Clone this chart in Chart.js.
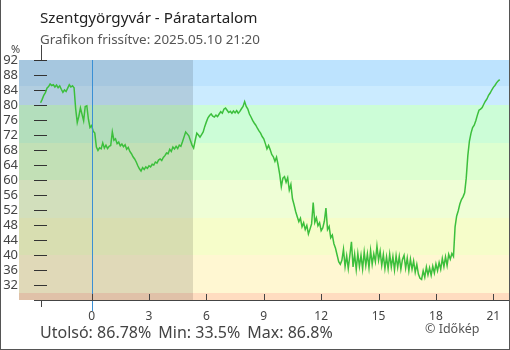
<!DOCTYPE html>
<html lang="hu">
<head>
<meta charset="utf-8">
<title>Szentgyörgyvár - Páratartalom</title>
<script src="https://cdn.jsdelivr.net/npm/chart.js@4.4.1/dist/chart.umd.min.js"></script>
<style>
  html, body { margin: 0; padding: 0; background: #fff; }
  #wrap { position: relative; width: 510px; height: 350px; font-family: "Noto Sans", sans-serif; overflow: hidden; }
  #wrap canvas { position: absolute; left: 0; top: 0; }
  .txt { position: absolute; white-space: nowrap; line-height: 1; }
  #title { left: 40px; top: 10px; font-size: 15.2px; color: #222; }
  #subtitle { left: 40px; top: 33px; font-size: 13.4px; color: #555; }
  #unit { left: 11px; top: 43px; font-size: 11px; color: #444; }
  #stats { left: 40px; top: 324px; font-size: 16px; color: #444; }
  #stats span { margin-right: 7px; }
  #copy { left: 425px; top: 323px; font-size: 12.5px; color: #555; }
  #frame { position: absolute; left: 0; top: 0; width: 510px; height: 350px; box-sizing: border-box;
           border-left: 1px solid #555; border-right: 1px solid #555; border-bottom: 1px solid #555; pointer-events: none; }
</style>
</head>
<body>
<div id="wrap">
  <canvas id="humChart" width="510" height="350"></canvas>
  <div class="txt" id="title">Szentgyörgyvár - Páratartalom</div>
  <div class="txt" id="subtitle">Grafikon frissítve: 2025.05.10 21:20</div>
  <div class="txt" id="unit">%</div>
  <div class="txt" id="stats"><span>Utolsó: 86.78%</span><span>Min: 33.5%</span><span>Max: 86.8%</span></div>
  <div class="txt" id="copy">© Időkép</div>
  <div id="frame"></div>
</div>
<script>
// hours relative to midnight, first reading at 21:20 the day before, one reading every 5 minutes
const startHour = -8 / 3;
const stepMinutes = 5;
const humidity = [
    80.6, 81.5, 82.6, 83.3, 84.5, 84.9, 85.6, 85.2, 85.4,
    84.8, 85.3, 84.6, 85.1, 84.2, 83.4, 84.0, 83.6, 84.5, 85.4, 84.8, 85.1,
    84.6, 79.0, 75.3, 77.0, 79.2, 77.5, 75.8, 79.6, 79.8, 76.2, 74.0, 74.5,
    73.0, 72.5, 68.8, 67.9, 68.6, 68.3, 69.9, 68.5, 69.3, 68.4, 69.0, 69.2,
    72.8, 70.6, 71.0, 69.7, 70.1, 69.1, 69.6, 68.9, 69.4, 68.2, 68.7, 67.6,
    67.0, 66.2, 65.6, 64.8, 63.8, 63.0, 62.4, 63.3, 62.8, 63.5, 63.1, 63.8,
    63.5, 64.2, 64.0, 64.8, 64.5, 65.3, 65.6, 65.2, 66.0, 66.5, 67.2, 67.0,
    68.2, 67.6, 68.8, 68.3, 69.0, 68.4, 69.3, 69.0, 70.2, 71.5, 72.8, 72.3,
    71.8, 70.5, 69.3, 68.5, 70.6, 72.5, 72.0, 71.4, 72.1, 72.8, 74.3, 75.5,
    76.6, 77.2, 77.6, 77.0, 76.8, 77.3, 76.9, 77.6, 78.2, 77.8, 78.9, 79.2,
    78.6, 78.0, 78.3, 77.8, 78.4, 77.9, 78.5, 77.8, 78.3, 79.0, 79.6, 80.9,
    79.6, 78.9, 77.6, 76.8, 75.9, 75.2, 74.6, 73.8, 73.1, 72.5, 71.6, 71.0,
    69.7, 68.3, 69.2, 68.1, 66.8, 66.2, 65.0, 66.1, 64.0, 61.5, 58.2, 60.5,
    60.9, 59.4, 60.6, 57.3, 58.8, 55.0, 53.4, 51.6, 50.2, 48.9, 49.8, 47.5,
    48.6, 46.8, 47.9, 45.6, 46.9, 48.3, 54.0, 48.7, 49.9, 47.8, 48.6, 46.5,
    47.2, 49.0, 52.5, 46.8, 47.6, 44.6, 45.3, 43.0, 41.8, 40.0, 38.2, 37.5,
    38.6, 41.5, 36.9, 39.8, 36.4, 39.9, 43.5, 36.8, 40.2, 36.1, 40.4, 36.9,
    39.9, 36.3, 40.8, 37.2, 40.3, 36.6, 41.2, 37.5, 40.3, 38.2, 42.4, 38.6,
    41.0, 37.2, 40.1, 36.4, 39.5, 36.3, 40.2, 36.8, 39.6, 36.0, 39.8, 36.7,
    39.6, 36.2, 38.8, 39.9, 36.5, 39.2, 35.8, 38.9, 36.2, 38.4, 35.4, 37.5,
    34.9, 33.8, 33.5, 35.8, 34.1, 36.8, 34.7, 36.6, 34.6, 37.0, 35.2, 37.6,
    35.8, 38.0, 36.2, 39.1, 36.9, 39.5, 37.2, 40.2, 38.9, 40.4, 39.6, 47.5,
    50.4, 51.8, 53.6, 54.8, 55.5, 56.6, 60.5, 66.5, 70.4, 72.5, 74.0, 74.6,
    75.8, 77.3, 78.6, 78.9, 79.3, 80.2, 81.0, 81.6, 82.6, 83.2, 84.0, 84.7,
    85.2, 85.9, 86.4, 86.78
];
const hourTicks = [0, 3, 6, 9, 12, 15, 18, 21];
const yTicks = [32, 36, 40, 44, 48, 52, 56, 60, 64, 68, 72, 76, 80, 84, 88, 92];
const bandEdges = [28, 30, 40, 50, 60, 70, 80, 85, 92];
const bandColors = ['#ffdcc0', '#fff7d2', '#f6fdca', '#effed6', '#ddffd0', '#ccfdd7', '#cbebff', '#bde3fe'];
const sunriseHour = 5.28;

const points = humidity.map((v, i) => ({ x: startHour + i * stepMinutes / 60, y: v }));

const decor = {
    id: 'decor',
    beforeDatasetsDraw(chart) {
        const { ctx, chartArea: a, scales: { x, y } } = chart;
        ctx.save();
        for (let i = 0; i < bandColors.length; i++) {
            const top = Math.round(y.getPixelForValue(bandEdges[i + 1]));
            const bot = Math.round(y.getPixelForValue(bandEdges[i]));
            ctx.fillStyle = bandColors[i];
            ctx.fillRect(a.left, top, a.right - a.left, bot - top);
        }
        // night until sunrise
        const nx = Math.round(x.getPixelForValue(sunriseHour));
        ctx.fillStyle = 'rgba(0,0,0,0.12)';
        ctx.fillRect(a.left, a.top, nx - a.left, a.bottom - a.top);
        // y tick dashes inside the plot
        ctx.strokeStyle = '#333';
        ctx.lineWidth = 1;
        ctx.beginPath();
        yTicks.forEach(v => {
            const py = Math.round(y.getPixelForValue(v)) + 0.5;
            ctx.moveTo(34, py);
            ctx.lineTo(47, py);
        });
        ctx.stroke();
        ctx.restore();
    },
    afterDatasetsDraw(chart) {
        const { ctx, chartArea: a, scales: { x } } = chart;
        ctx.save();
        ctx.lineWidth = 1;
        // midnight
        const mx = Math.round(x.getPixelForValue(0)) + 0.5;
        ctx.strokeStyle = '#3a8fd5';
        ctx.beginPath();
        ctx.moveTo(mx, a.top);
        ctx.lineTo(mx, a.bottom + 11);
        ctx.stroke();
        // axis line and hour ticks
        ctx.strokeStyle = '#444';
        ctx.beginPath();
        ctx.moveTo(34, a.bottom + 0.5);
        ctx.lineTo(a.right, a.bottom + 0.5);
        hourTicks.forEach(h => {
            const px = Math.round(x.getPixelForValue(h)) + 0.5;
            ctx.moveTo(px, a.bottom - 6);
            ctx.lineTo(px, a.bottom);
        });
        const sx = Math.round(x.getPixelForValue(startHour)) + 0.5;
        ctx.moveTo(sx, a.top - 15);
        ctx.lineTo(sx, a.top);
        ctx.moveTo(sx, a.bottom);
        ctx.lineTo(sx, a.bottom + 7);
        ctx.stroke();
        ctx.restore();
    }
};

new Chart(document.getElementById('humChart'), {
    type: 'line',
    data: {
        datasets: [{
            data: points,
            borderColor: '#3cbf3c',
            borderWidth: 1.5,
            pointRadius: 0,
            tension: 0,
            fill: false
        }]
    },
    options: {
        responsive: false,
        animation: false,
        events: [],
        layout: { padding: { top: 60, right: 1, bottom: 0, left: 0 } },
        plugins: { legend: { display: false }, tooltip: { enabled: false } },
        scales: {
            x: {
                type: 'linear',
                min: -3.795,
                max: 21.819,
                grid: { display: false, drawTicks: false },
                border: { display: false },
                afterBuildTicks: s => { s.ticks = hourTicks.map(v => ({ value: v })); },
                afterFit: s => { s.height = 50; },
                ticks: {
                    padding: 9,
                    color: '#444',
                    font: { family: 'Noto Sans', size: 12 },
                    maxRotation: 0,
                    autoSkip: false
                }
            },
            y: {
                min: 28,
                max: 92,
                grid: { display: false, drawTicks: false },
                border: { display: false },
                afterBuildTicks: s => { s.ticks = yTicks.map(v => ({ value: v })); },
                afterFit: s => { s.width = 19; },
                ticks: {
                    padding: 1,
                    autoSkip: false,
                    color: '#444',
                    font: { family: 'Noto Sans', size: 13 }
                }
            }
        }
    },
    plugins: [decor]
});
</script>
</body>
</html>
